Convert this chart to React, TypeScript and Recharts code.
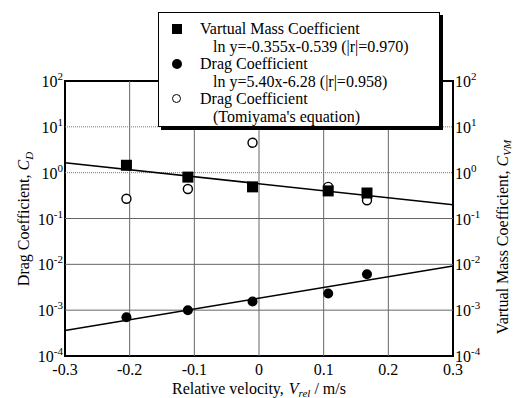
import {
    ComposedChart,
    Scatter,
    Line,
    XAxis,
    YAxis,
    ReferenceLine,
    ReferenceArea,
    Legend,
} from "recharts";

const serif = "Liberation Serif";

// relative velocity of the five measured points (m/s)
const velocity = [-0.205, -0.11, -0.01, 0.107, 0.167];
const virtualMass = [1.45, 0.8, 0.49, 0.4, 0.36];
const dragMeasured = [0.0007, 0.001, 0.00155, 0.0023, 0.0061];
const dragTomiyama = [0.27, 0.44, 4.5, 0.49, 0.25];

// fitted lines, read at both ends of the axis
const fitVelocity = [-0.3, 0.3];
const virtualMassFit = [1.65, 0.2];
const dragFit = [0.00036, 0.0092];

const xTicks = [-0.3, -0.2, -0.1, 0, 0.1, 0.2, 0.3];
const yTicks = [0.0001, 0.001, 0.01, 0.1, 1, 10, 100];
const xGrid = [-0.2, -0.1, 0, 0.1, 0.2];
const yGridSolid = [0.001, 0.01, 0.1];
const yGridDotted = [1, 10];

const legendRows = [
    { marker: "square", title: "Vartual Mass Coefficient", note: "ln y=-0.355x-0.539 (|r|=0.970)" },
    { marker: "dot", title: "Drag Coefficient", note: "ln y=5.40x-6.28 (|r|=0.958)" },
    { marker: "ring", title: "Drag Coefficient", note: "(Tomiyama's equation)" },
];

const toPoints = (xs: number[], ys: number[]) => xs.map((x, i) => ({ x, y: ys[i] }));

const SquareMark = (props: any) => (
    <rect x={props.cx - 5.5} y={props.cy - 5.5} width={11} height={11} fill="#000" />
);
const DotMark = (props: any) => <circle cx={props.cx} cy={props.cy} r={5} fill="#000" />;
const RingMark = (props: any) => (
    <circle cx={props.cx} cy={props.cy} r={4.5} fill="#fff" stroke="#000" strokeWidth={1.4} />
);

const PowerTick = (props: any) => {
    const { y, payload, side } = props;
    const exp = Math.round(Math.log10(payload.value));
    return (
        <text
            x={side === "left" ? 63 : 455}
            y={y + 6}
            textAnchor={side === "left" ? "end" : "start"}
            style={{ fontFamily: serif }}
            fontSize={16}
            fill="#000"
        >
            10
            <tspan dy={-7} fontSize={11}>
                {exp}
            </tspan>
        </text>
    );
};

const LegendBox = () => (
    <div
        style={{
            boxSizing: "border-box",
            width: 282,
            height: 115,
            background: "#fff",
            border: "1.5px solid #000",
            boxShadow: "3px 3px 0 #000",
            padding: "7px 0 0 0",
            fontFamily: serif,
            fontSize: 16,
            lineHeight: "17.6px",
            color: "#000",
        }}
    >
        {legendRows.map((row) => (
            <div key={row.note}>
                <div style={{ position: "relative", paddingLeft: 41, whiteSpace: "nowrap" }}>
                    <span
                        style={{
                            position: "absolute",
                            left: 12.5,
                            top: 4,
                            width: row.marker === "ring" ? 7 : 10,
                            height: row.marker === "ring" ? 7 : 10,
                            background: row.marker === "ring" ? "#fff" : "#000",
                            border: row.marker === "ring" ? "1.4px solid #000" : "none",
                            borderRadius: row.marker === "square" ? 0 : "50%",
                        }}
                    />
                    {row.title}
                </div>
                <div style={{ paddingLeft: 54, whiteSpace: "nowrap" }}>{row.note}</div>
            </div>
        ))}
    </div>
);

const App = () => (
    <div style={{ position: "absolute", left: 0, top: 0, width: 516, height: 398, background: "#fff", fontFamily: serif }}>
        <ComposedChart width={516} height={398} margin={{ top: 81, right: 0, bottom: 0, left: 0 }} style={{ fontFamily: serif }}>
            <XAxis
                dataKey="x"
                type="number"
                domain={[-0.3, 0.3]}
                ticks={xTicks}
                tickFormatter={(v: number) => String(v)}
                axisLine={false}
                tickLine={false}
                tickSize={0}
                tickMargin={8}
                height={42}
                tick={{ fill: "#000", fontFamily: serif, fontSize: 16, style: { fontFamily: serif } }}
                label={{
                    position: "insideBottom",
                    content: () => (
                        <text x={259} y={394} textAnchor="middle" style={{ fontFamily: serif }} fontSize={16} fill="#000">
                            Relative velocity,
                            <tspan dx={5} fontStyle="italic">V</tspan>
                            <tspan dy={3} fontSize={11} fontStyle="italic">rel</tspan>
                            <tspan dy={-3}> / m/s</tspan>
                        </text>
                    ),
                }}
            />
            <YAxis
                yAxisId="left"
                scale="log"
                type="number"
                domain={[0.0001, 100]}
                allowDataOverflow
                ticks={yTicks}
                width={65}
                axisLine={false}
                tickLine={false}
                tickSize={0}
                tick={<PowerTick side="left" />}
                label={{
                    position: "insideLeft",
                    content: () => (
                        <text
                            x={29}
                            y={219}
                            transform="rotate(-90, 29, 219)"
                            textAnchor="middle"
                            style={{ fontFamily: serif }}
                            fontSize={16}
                            fill="#000"
                        >
                            Drag Coefficient,
                            <tspan dx={4} fontStyle="italic">C</tspan>
                            <tspan dy={4} fontSize={11} fontStyle="italic">D</tspan>
                        </text>
                    ),
                }}
            />
            <YAxis
                yAxisId="right"
                orientation="right"
                scale="log"
                type="number"
                domain={[0.0001, 100]}
                allowDataOverflow
                ticks={yTicks}
                width={63}
                axisLine={false}
                tickLine={false}
                tickSize={0}
                tick={<PowerTick side="right" />}
                label={{
                    position: "insideRight",
                    content: () => (
                        <text
                            x={508}
                            y={237}
                            transform="rotate(-90, 508, 237)"
                            textAnchor="middle"
                            style={{ fontFamily: serif }}
                            fontSize={16}
                            fill="#000"
                        >
                            Vartual Mass Coefficient,
                            <tspan dx={4} fontStyle="italic">C</tspan>
                            <tspan dy={3} fontSize={11} fontStyle="italic">VM</tspan>
                        </text>
                    ),
                }}
            />

            {xGrid.map((v) => (
                <ReferenceLine key={`vx${v}`} yAxisId="left" x={v} stroke="#666" strokeWidth={1} />
            ))}
            {yGridSolid.map((v) => (
                <ReferenceLine key={`hs${v}`} yAxisId="left" y={v} stroke="#666" strokeWidth={1} />
            ))}
            {yGridDotted.map((v) => (
                <ReferenceLine key={`hd${v}`} yAxisId="left" y={v} stroke="#777" strokeWidth={1} strokeDasharray="1 1" />
            ))}
            <ReferenceArea
                yAxisId="left"
                x1={-0.3}
                x2={0.3}
                y1={0.0001}
                y2={100}
                fill="none"
                fillOpacity={0}
                stroke="#000"
                strokeWidth={2}
                ifOverflow="visible"
            />

            <Line
                yAxisId="left"
                data={toPoints(fitVelocity, virtualMassFit)}
                dataKey="y"
                type="linear"
                stroke="#000"
                strokeWidth={1.5}
                dot={false}
                isAnimationActive={false}
            />
            <Line
                yAxisId="left"
                data={toPoints(fitVelocity, dragFit)}
                dataKey="y"
                type="linear"
                stroke="#000"
                strokeWidth={1.5}
                dot={false}
                isAnimationActive={false}
            />
            <Scatter
                yAxisId="left"
                data={toPoints(velocity, dragTomiyama)}
                dataKey="y"
                shape={RingMark}
                isAnimationActive={false}
            />
            <Scatter
                yAxisId="left"
                data={toPoints(velocity, virtualMass)}
                dataKey="y"
                shape={SquareMark}
                isAnimationActive={false}
            />
            <Scatter
                yAxisId="left"
                data={toPoints(velocity, dragMeasured)}
                dataKey="y"
                shape={DotMark}
                isAnimationActive={false}
            />

            <Legend
                layout="vertical"
                align="center"
                verticalAlign="middle"
                content={() => <LegendBox />}
                wrapperStyle={{ top: 12, left: 158, width: 282, height: 115 }}
            />
        </ComposedChart>
    </div>
);

export default App;
